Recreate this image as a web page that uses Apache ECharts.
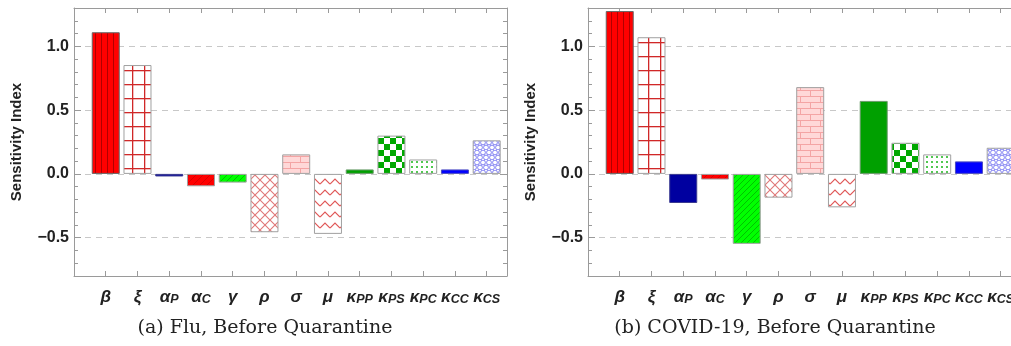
<!DOCTYPE html>
<html><head><meta charset="utf-8">
<script src="https://cdn.jsdelivr.net/npm/echarts@6/dist/echarts.min.js"></script>
<style>html,body{margin:0;padding:0;background:#fff}#c{width:1011px;height:346px}</style>
</head><body><div id="c"></div>
<script>
// ---- data ----
const params = ['β','ξ','α','α','γ','ρ','σ','μ','κ','κ','κ','κ','κ'];
const subs = ['','','P','C','','','','','PP','PS','PC','CC','CS'];
const fluValues = [1.11, 0.853, -0.02, -0.097, -0.068, -0.457, 0.153, -0.47, 0.035, 0.30, 0.113, 0.035, 0.263];
const covidValues = [1.276, 1.071, -0.228, -0.044, -0.548, -0.186, 0.68, -0.262, 0.572, 0.244, 0.153, 0.098, 0.205];
const yTicks = [-0.5, 0, 0.5, 1.0];
const xPositions = [1,2,3,4,5,6,7,8,9,10,11,12,13];
const captions = ['(a) Flu, Before Quarantine', '(b) COVID-19, Before Quarantine'];

// ---- patterns ----
function pat(w, h, draw) {
  const c = document.createElement('canvas'); c.width = w; c.height = h;
  const g = c.getContext('2d'); draw(g, w, h);
  return { image: c, repeat: 'repeat' };
}
const patterns = [
  pat(6, 6, (g) => { g.fillStyle = '#ff0000'; g.fillRect(0,0,6,6); g.fillStyle = '#b00000'; g.fillRect(5,0,1,6); }),
  pat(12, 14, (g) => { g.fillStyle = '#fff'; g.fillRect(0,0,12,14); g.fillStyle = '#d02828'; g.fillRect(0,0,12,1.3); g.fillRect(0,0,1.3,14); }),
  '#0000a0',
  pat(7, 7, (g) => { g.fillStyle = '#ff0000'; g.fillRect(0,0,7,7); g.strokeStyle = '#d00000'; g.lineWidth = 0.8; g.beginPath(); g.moveTo(0,7); g.lineTo(7,0); g.stroke(); }),
  pat(6, 6, (g) => { g.fillStyle = '#00ff00'; g.fillRect(0,0,6,6); g.strokeStyle = '#00a800'; g.lineWidth = 0.7; g.beginPath(); g.moveTo(0,6); g.lineTo(6,0); g.stroke(); }),
  pat(10, 10, (g) => { g.fillStyle = '#fff'; g.fillRect(0,0,10,10); g.strokeStyle = '#e07878'; g.lineWidth = 1.1; g.beginPath(); g.moveTo(0,0); g.lineTo(10,10); g.moveTo(10,0); g.lineTo(0,10); g.stroke(); }),
  pat(20, 12, (g) => { g.fillStyle = '#ffd8d8'; g.fillRect(0,0,20,12); g.fillStyle = '#f4a4a4'; g.fillRect(0,0,20,1); g.fillRect(0,6,20,1); g.fillRect(0,0,1,6); g.fillRect(10,6,1,6); }),
  pat(10, 11, (g) => { g.fillStyle = '#fff'; g.fillRect(0,0,10,11); g.strokeStyle = '#e05858'; g.lineWidth = 1.2; g.beginPath(); g.moveTo(0,8); g.lineTo(5,3); g.lineTo(10,8); g.stroke(); }),
  '#00a000',
  pat(12, 12, (g) => { g.fillStyle = '#fff'; g.fillRect(0,0,12,12); g.fillStyle = '#00a800'; g.fillRect(0,0,6,6); g.fillRect(6,6,6,6); }),
  pat(5, 5, (g) => { g.fillStyle = '#fff'; g.fillRect(0,0,5,5); g.fillStyle = '#50c850'; g.fillRect(1,1,2,2); }),
  '#0000ff',
  pat(6, 10, (g) => { g.fillStyle = '#fff'; g.fillRect(0,0,6,10); g.strokeStyle = '#7070f0'; g.lineWidth = 0.9;
    [[3,2.5],[0,7.5],[6,7.5]].forEach(([x,y]) => { g.beginPath(); g.arc(x,y,2.4,0,Math.PI*2); g.stroke(); }); })
];
const borders = ['#666','#a0a0a0','#3a3a90','#a0a0a0','#a0a0a0','#a0a0a0','#a0a0a0','#a0a0a0','#6a9a6a','#a0a0a0','#a0a0a0','#4a4ac0','#a0a0a0'];

const axisColor = '#9a9a9a';
const txtColor = '#222';
const sans = 'Liberation Sans';

function xLabel(v) {
  const k = Math.round(v) - 1;
  if (k < 0 || k >= params.length) return '';
  return subs[k] ? `{g|${params[k]}}{s|${subs[k]}}` : `{g|${params[k]}}`;
}
function yLabel(v) {
  const s = Math.abs(v).toFixed(1);
  return v < -1e-9 ? '−' + s : s;
}

const gridLefts = [74, 588];
const grids = [], xAxes = [], yAxes = [], series = [], titles = [];
const allValues = [fluValues, covidValues];
const captionCenters = [265, 775];

gridLefts.forEach((left, i) => {
  grids.push({ left: left, top: 8, width: 433, height: 268, containLabel: false, outerBoundsMode: 'none' });
  const xBase = { gridIndex: i, type: 'value', min: 0, max: 13.64,
    axisLine: { show: true, onZero: false, lineStyle: { color: axisColor, width: 1 } },
    axisTick: { show: true, inside: true, length: 5, customValues: xPositions, lineStyle: { color: axisColor } },
    splitLine: { show: false } };
  xAxes.push(Object.assign({}, xBase, { position: 'bottom',
    axisLabel: { show: true, customValues: xPositions, margin: 10, formatter: xLabel, hideOverlap: false,
      rich: {
        g: { fontFamily: sans, fontSize: 17, fontStyle: 'italic', fontWeight: 'bold', color: txtColor, verticalAlign: 'bottom', lineHeight: 20 },
        s: { fontFamily: sans, fontSize: 12.5, fontStyle: 'italic', fontWeight: 'bold', color: txtColor, verticalAlign: 'bottom', lineHeight: 14 }
      } } }));
  xAxes.push(Object.assign({}, xBase, { position: 'top', axisLabel: { show: false } }));

  const yBase = { gridIndex: i, type: 'value', min: -0.8, max: 1.3,
    axisLine: { show: true, onZero: false, lineStyle: { color: axisColor, width: 1 } } };
  yAxes.push(Object.assign({}, yBase, { position: 'left',
    name: 'Sensitivity Index', nameLocation: 'middle', nameGap: 50,
    nameTextStyle: { fontFamily: sans, fontSize: 15, fontWeight: 'bold', color: txtColor },
    axisTick: { show: true, inside: true, length: 7, customValues: yTicks, lineStyle: { color: axisColor } },
    axisLabel: { show: true, customValues: yTicks, formatter: yLabel, margin: 5,
      fontFamily: sans, fontSize: 16, fontWeight: 'bold', color: txtColor },
    splitLine: { show: true, lineStyle: { color: '#c8c8c8', type: [6, 5], width: 1 } } }));
  yAxes.push(Object.assign({}, yBase, { position: 'left', interval: 0.1,
    axisLine: { show: false, onZero: false },
    axisTick: { show: true, inside: true, length: 4, lineStyle: { color: axisColor } },
    axisLabel: { show: false }, splitLine: { show: false } }));
  yAxes.push(Object.assign({}, yBase, { position: 'right',
    axisTick: { show: true, inside: true, length: 7, customValues: yTicks, lineStyle: { color: axisColor } },
    axisLabel: { show: false }, splitLine: { show: false } }));
  yAxes.push(Object.assign({}, yBase, { position: 'right', interval: 0.1,
    axisLine: { show: false, onZero: false },
    axisTick: { show: true, inside: true, length: 4, lineStyle: { color: axisColor } },
    axisLabel: { show: false }, splitLine: { show: false } }));

  series.push({ type: 'bar', xAxisIndex: i * 2, yAxisIndex: i * 4, barWidth: 28, z: 5,
    animation: false,
    data: allValues[i].map((v, k) => ({ value: [xPositions[k], v],
      itemStyle: { color: patterns[k], borderColor: borders[k], borderWidth: 1 } })) });

  titles.push({ text: captions[i], left: captionCenters[i], top: 319, textAlign: 'center', padding: 0,
    textStyle: { fontFamily: 'DejaVu Serif', fontSize: 19, fontWeight: 'normal', color: txtColor } });
});

const chart = echarts.init(document.getElementById('c'), null, { renderer: 'canvas' });
chart.setOption({ backgroundColor: '#fff', animation: false, title: titles, grid: grids, xAxis: xAxes, yAxis: yAxes, series: series });
</script>
</body></html>
